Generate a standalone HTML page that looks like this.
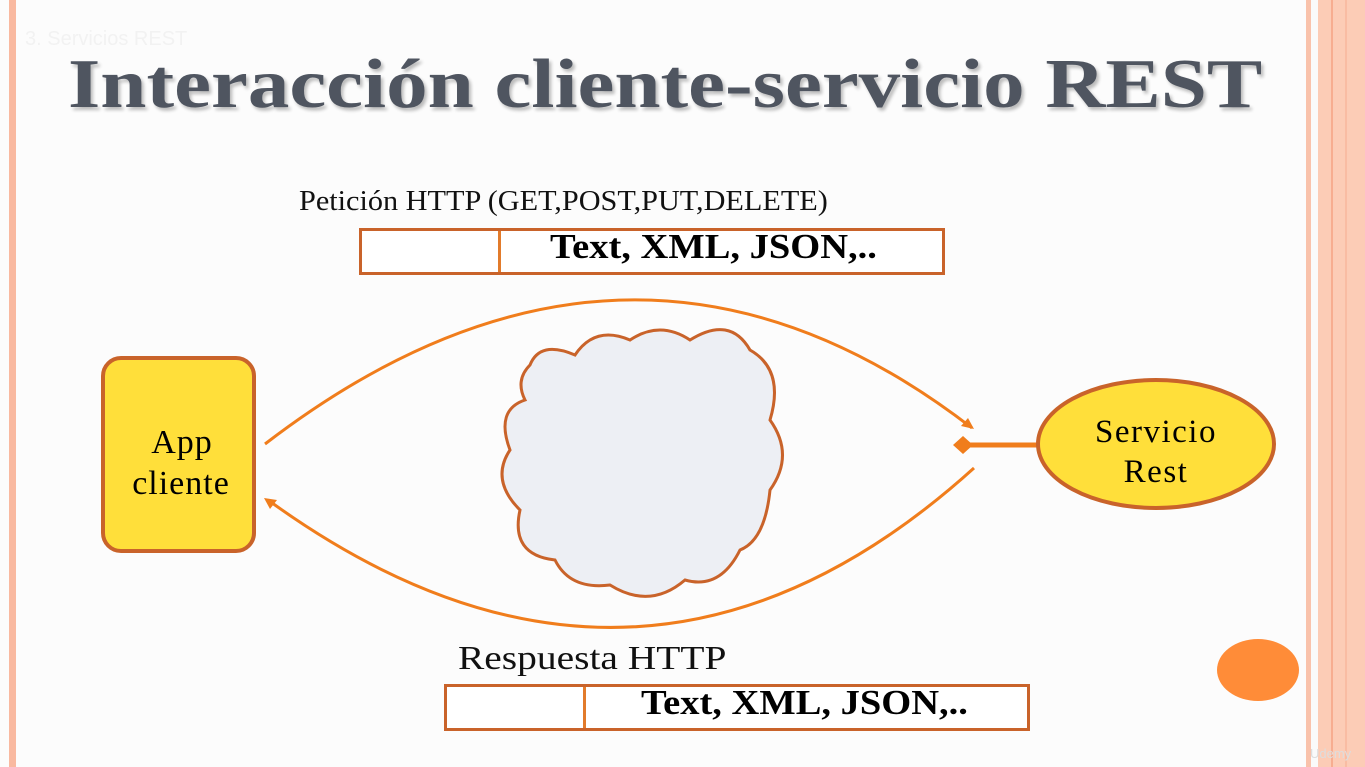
<!DOCTYPE html>
<html><head><style>
body{margin:0;width:1365px;height:767px;overflow:hidden;background:#fafafa;position:relative;font-family:"Liberation Serif",serif}
.a{position:absolute;transform-origin:left top;white-space:nowrap}
</style></head><body>
<div class="a" style="left:0;top:0;width:1306px;height:767px;background:#fcfcfc"></div>
<div class="a" style="left:9px;top:0;width:7px;height:767px;background:#f9b9a0"></div>
<div class="a" style="left:1306px;top:0;width:5px;height:767px;background:#f9c2ab"></div>
<div class="a" style="left:1318px;top:0;width:47px;height:767px;background:#fcccb6"></div>
<div class="a" style="left:1331px;top:0;width:2px;height:767px;background:#f7ad90"></div>
<div class="a" style="left:1345px;top:0;width:2px;height:767px;background:#f9bca3"></div>
<div class="a" style="left:25px;top:28px;font-family:'Liberation Sans',sans-serif;font-size:20px;color:#f2f2f2">3. Servicios REST</div>
<div class="a" style="left:68px;top:45px;font-size:70px;font-weight:bold;color:#4f5560;transform:scaleX(1.186);text-shadow:2px 3px 3px #bbb">Interacción cliente-servicio REST</div>
<div class="a" style="left:299px;top:186px;font-size:28px;color:#111;transform:scaleX(1.08)">Petición HTTP (GET,POST,PUT,DELETE)</div>
<div class="a" style="left:359px;top:228px;width:580px;height:41px;border:3px solid #c9632a;background:#fff"></div>
<div class="a" style="left:498px;top:231px;width:3px;height:41px;background:#e27b2b"></div>
<div class="a" style="left:550px;top:227px;font-size:35px;font-weight:bold;transform:scaleX(1.1)">Text, XML, JSON,..</div>
<div class="a" style="left:458px;top:640px;font-size:34px;color:#111;transform:scaleX(1.16)">Respuesta HTTP</div>
<div class="a" style="left:444px;top:684px;width:580px;height:41px;border:3px solid #c9632a;background:#fff"></div>
<div class="a" style="left:583px;top:687px;width:3px;height:41px;background:#e27b2b"></div>
<div class="a" style="left:641px;top:683px;font-size:35px;font-weight:bold;transform:scaleX(1.1)">Text, XML, JSON,..</div>
<svg class="a" style="left:0;top:0" width="1365" height="767">
<path d="M265 444 Q630 164 972 428" fill="none" stroke="#f07d1c" stroke-width="3"/>
<polygon points="974,429 961,426 968,418" fill="#f07d1c"/>
<path d="M974 468 Q640 770 268 500" fill="none" stroke="#f07d1c" stroke-width="3"/>
<polygon points="264,498 277,500 270,509" fill="#f07d1c"/>
<line x1="965" y1="445" x2="1040" y2="445" stroke="#f07d1c" stroke-width="5"/>
<polygon points="953,445 963,436 973,445 963,454" fill="#f07d1c"/>
<path d="M530 365 Q540 340 575 355 Q595 325 630 340 Q660 320 690 340 Q730 315 750 350 Q785 370 770 420 Q795 455 770 490 Q765 540 740 550 Q720 590 685 580 Q650 610 610 585 Q570 590 555 560 Q510 555 520 510 Q490 480 510 450 Q495 410 525 400 Q515 380 530 365 Z" fill="#edeff4" stroke="#c9632a" stroke-width="3"/>
<rect x="103" y="358" width="151" height="193" rx="18" fill="#ffdf3a" stroke="#c9632a" stroke-width="4"/>
<ellipse cx="1156" cy="444" rx="118" ry="64" fill="#ffdf3a" stroke="#c9632a" stroke-width="4"/>
<ellipse cx="1258" cy="670" rx="41" ry="31" fill="#ff8c38"/>
<text x="182" y="453" text-anchor="middle" font-size="34" font-family="Liberation Serif" letter-spacing="1">App</text>
<text x="181" y="494" text-anchor="middle" font-size="34" font-family="Liberation Serif" letter-spacing="1">cliente</text>
<text x="1156" y="442" text-anchor="middle" font-size="33" font-family="Liberation Serif" letter-spacing="1.5">Servicio</text>
<text x="1156" y="482" text-anchor="middle" font-size="33" font-family="Liberation Serif" letter-spacing="1.5">Rest</text>
<text x="1310" y="758" font-size="13" fill="#ddd" font-family="Liberation Sans">Udemy</text>
</svg>
</body></html>
